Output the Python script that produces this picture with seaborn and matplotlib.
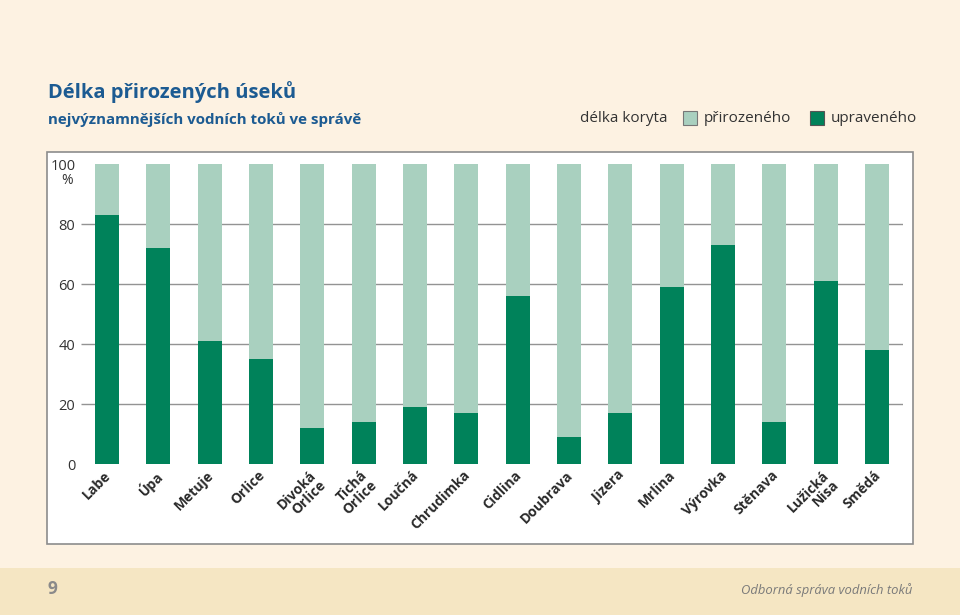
import matplotlib
matplotlib.use("Agg")
import matplotlib.pyplot as plt
import matplotlib.transforms as mtransforms
from matplotlib.patches import Rectangle
import seaborn as sns

# river names and share of "upravený" (regulated) channel length in %
rivers = ["Labe", "Úpa", "Metuje", "Orlice", "Divoká\nOrlice", "Tichá\nOrlice",
          "Loučná", "Chrudimka", "Cidlina", "Doubrava", "Jizera", "Mrlina",
          "Výrovka", "Stěnava", "Lužická\nNisa", "Smědá"]
upraveny = [83, 72, 41, 35, 12, 14, 19, 17, 56, 9, 17, 59, 73, 14, 61, 38]
celkem = [100] * len(rivers)
yticks = [0, 20, 40, 60, 80, 100]

light = "#a9d0bf"
dark = "#00825a"
blue = "#1c5b92"
bg = "#fdf2e2"

sns.set_style("white")
plt.rcParams["font.family"] = ["Open Sans", "DejaVu Sans"]

fig = plt.figure(figsize=(9.6, 6.15), dpi=100, facecolor=bg)

# white panel and footer band
fig.patches.append(Rectangle((47 / 960, 71 / 615), 866 / 960, 392 / 615,
                             transform=fig.transFigure, facecolor="white",
                             edgecolor="#8c8c8c", lw=1.2, zorder=0))
fig.patches.append(Rectangle((0, 0), 1, 47 / 615, transform=fig.transFigure,
                             facecolor="#f5e6c3", edgecolor="none", zorder=0))

ax = fig.add_axes([81.3 / 960, 151 / 615, 821.3 / 960, 300 / 615])
ax.set_facecolor("none")
ax.set_zorder(2)

ax.hlines([20, 40, 60, 80], -0.5, len(rivers) - 0.5, color="#939393",
          lw=1, zorder=0)
sns.barplot(x=rivers, y=celkem, color=light, width=0.47, saturation=1,
            linewidth=0, edgecolor="none", ax=ax, zorder=2)
sns.barplot(x=rivers, y=upraveny, color=dark, width=0.47, saturation=1,
            linewidth=0, edgecolor="none", ax=ax, zorder=3)

ax.set_xlim(-0.5, len(rivers) - 0.5)
ax.set_ylim(0, 100)
ax.set_yticks(yticks)
ax.set_yticklabels([str(v) for v in yticks], fontsize=10.5, color="#333333")
ax.tick_params(axis="y", length=0, pad=4.3)
ax.tick_params(axis="x", length=0, pad=3)
for s in ax.spines.values():
    s.set_visible(False)
ax.annotate("%", xy=(0, 1), xycoords="axes fraction", xytext=(-10.5, -12),
            textcoords="offset points", ha="center", va="center",
            fontsize=10, color="#333333")

offset = mtransforms.ScaledTranslation(-2.5 / 72, 0, fig.dpi_scale_trans)
ax.set_xticks(range(len(rivers)))
ax.set_xticklabels(rivers, rotation=45, ha="right", rotation_mode="anchor",
                   fontsize=10, fontweight="bold", color="#2a2a2a",
                   linespacing=0.95)
for lab in ax.get_xticklabels():
    lab.set_transform(lab.get_transform() + offset)
ax.set_xlabel("")
ax.set_ylabel("")

# titles
fig.text(48 / 960, 1 - 92 / 615, "Délka přirozených úseků", fontsize=14.5,
         fontweight="bold", color=blue, va="center", ha="left")
fig.text(48 / 960, 1 - 120 / 615, "nejvýznamnějších vodních toků ve správě",
         fontsize=10.9, fontweight="bold", color=blue, va="center", ha="left")

# legend
fig.text(580 / 960, 1 - 118 / 615, "délka koryta", fontsize=11,
         color="#333333", va="center", ha="left")
fig.patches.append(Rectangle((683 / 960, 1 - 125 / 615), 14 / 960, 14 / 615,
                             transform=fig.transFigure, facecolor=light,
                             edgecolor="#777777", lw=0.8))
fig.text(704 / 960, 1 - 118 / 615, "přirozeného", fontsize=11,
         color="#333333", va="center", ha="left")
fig.patches.append(Rectangle((810 / 960, 1 - 125 / 615), 14 / 960, 14 / 615,
                             transform=fig.transFigure, facecolor=dark,
                             edgecolor="#555555", lw=0.8))
fig.text(831 / 960, 1 - 118 / 615, "upraveného", fontsize=11,
         color="#333333", va="center", ha="left")

# footer
fig.text(48 / 960, 1 - 589 / 615, "9", fontsize=12.5, fontweight="bold",
         color="#8a8a8a", va="center", ha="left")
fig.text(912 / 960, 1 - 590 / 615, "Odborná správa vodních toků",
         fontsize=9.4, style="italic", color="#7a7a7a", va="center",
         ha="right")

fig.savefig("out.png", dpi=100, facecolor=bg)
